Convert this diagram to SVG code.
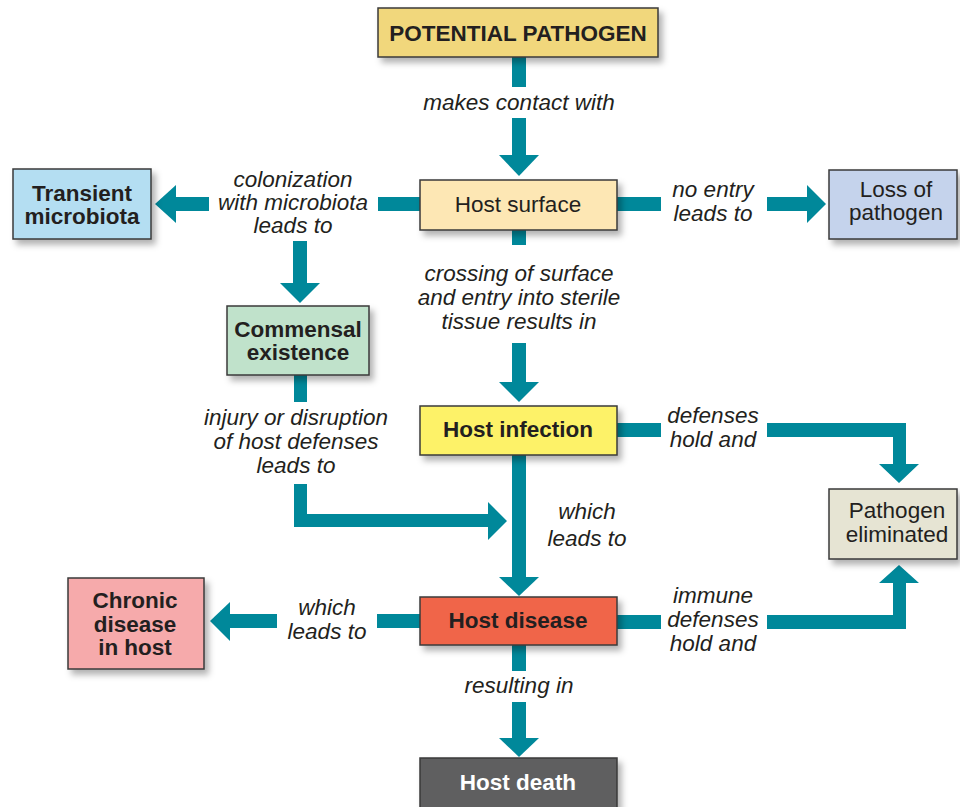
<svg xmlns="http://www.w3.org/2000/svg" width="960" height="807" viewBox="0 0 960 807">
<defs>
<filter id="sh" x="-10%" y="-20%" width="130%" height="150%">
<feDropShadow dx="4" dy="5" stdDeviation="3" flood-color="#000" flood-opacity="0.3"/>
</filter>
<style>
.box{stroke:#3a3a3a;stroke-width:1.5;filter:url(#sh)}
.t{font-family:"Liberation Sans",Arial,sans-serif;font-size:22.5px;fill:#231f20;text-anchor:middle}
.b{font-weight:bold}
.lbl{font-family:"Liberation Sans",Arial,sans-serif;font-size:22.5px;font-style:italic;fill:#231f20;text-anchor:middle}
.c{fill:#00889a}
</style>
</defs>
<rect width="960" height="807" fill="#fff"/>
<g id="connectors">
<rect class="c" x="512" y="57" width="14" height="30"/>
<rect class="c" x="512" y="118" width="14" height="38"/>
<polygon class="c" points="499,155 539,155 519,176"/>
<rect class="c" x="378" y="197" width="43" height="14"/>
<rect class="c" x="175" y="197" width="34" height="14"/>
<polygon class="c" points="176,185 176,223 155,204"/>
<rect class="c" x="293" y="241" width="14" height="43"/>
<polygon class="c" points="280,283 320,283 300,303"/>
<rect class="c" x="616" y="197" width="45" height="14"/>
<rect class="c" x="767" y="197" width="41" height="14"/>
<polygon class="c" points="807,185 807,223 826,204"/>
<rect class="c" x="512" y="229" width="14" height="16"/>
<rect class="c" x="512" y="343" width="14" height="40"/>
<polygon class="c" points="499,382 539,382 519,402"/>
<rect class="c" x="294" y="374" width="13" height="28"/>
<polygon class="c" points="294,484 307,484 307,514 488,514 488,502 507,521 488,540 488,527 294,527"/>
<rect class="c" x="512" y="454" width="14" height="124"/>
<polygon class="c" points="499,577 539,577 519,596"/>
<rect class="c" x="616" y="423" width="45" height="14"/>
<polygon class="c" points="767,423 906,423 906,464 919,464 899,483 879,464 893,464 893,437 767,437"/>
<rect class="c" x="616" y="615" width="45" height="14"/>
<polygon class="c" points="767,629 906,629 906,583 919,583 899,565 879,583 893,583 893,615 767,615"/>
<rect class="c" x="377" y="614" width="44" height="14"/>
<rect class="c" x="229" y="614" width="48" height="14"/>
<polygon class="c" points="230,602 230,641 210,621"/>
<rect class="c" x="512" y="644" width="14" height="27"/>
<rect class="c" x="512" y="702" width="14" height="37"/>
<polygon class="c" points="499,738 539,738 519,757"/>
</g>
<g id="labels">
<text class="lbl" x="519" y="110">makes contact with</text>
<text class="lbl" x="293" y="187">colonization</text>
<text class="lbl" x="293" y="210">with microbiota</text>
<text class="lbl" x="293" y="233">leads to</text>
<text class="lbl" x="713" y="197">no entry</text>
<text class="lbl" x="713" y="221">leads to</text>
<text class="lbl" x="519" y="281">crossing of surface</text>
<text class="lbl" x="519" y="305">and entry into sterile</text>
<text class="lbl" x="519" y="329">tissue results in</text>
<text class="lbl" x="296" y="425">injury or disruption</text>
<text class="lbl" x="296" y="449">of host defenses</text>
<text class="lbl" x="296" y="473">leads to</text>
<text class="lbl" x="713" y="423">defenses</text>
<text class="lbl" x="713" y="447">hold and</text>
<text class="lbl" x="587" y="519">which</text>
<text class="lbl" x="587" y="546">leads to</text>
<text class="lbl" x="713" y="603">immune</text>
<text class="lbl" x="713" y="627">defenses</text>
<text class="lbl" x="713" y="651">hold and</text>
<text class="lbl" x="327" y="615">which</text>
<text class="lbl" x="327" y="639">leads to</text>
<text class="lbl" x="519" y="693">resulting in</text>
</g>
<g id="potential-pathogen">
<rect class="box" x="378" y="8" width="280" height="49" fill="#f1d77b"/>
<text class="t b" x="518" y="41">POTENTIAL PATHOGEN</text>
</g>
<g id="host-surface">
<rect class="box" x="420" y="180" width="197" height="50" fill="#fde7b4"/>
<text class="t" x="518" y="212">Host surface</text>
</g>
<g id="transient-microbiota">
<rect class="box" x="13" y="169" width="138" height="70" fill="#b4def2"/>
<text class="t b" x="82" y="201">Transient</text>
<text class="t b" x="82" y="224">microbiota</text>
</g>
<g id="loss-of-pathogen">
<rect class="box" x="829" y="170" width="128" height="69" fill="#c5d3ec"/>
<text class="t" x="896" y="197">Loss of</text>
<text class="t" x="896" y="220">pathogen</text>
</g>
<g id="commensal-existence">
<rect class="box" x="227" y="306" width="142" height="69" fill="#c0e2cb"/>
<text class="t b" x="298" y="337">Commensal</text>
<text class="t b" x="298" y="360">existence</text>
</g>
<g id="host-infection">
<rect class="box" x="420" y="406" width="197" height="49" fill="#fdf267"/>
<text class="t b" x="518" y="437">Host infection</text>
</g>
<g id="pathogen-eliminated">
<rect class="box" x="829" y="489" width="128" height="70" fill="#e6e4d3"/>
<text class="t" x="897" y="518">Pathogen</text>
<text class="t" x="897" y="542">eliminated</text>
</g>
<g id="host-disease">
<rect class="box" x="420" y="597" width="197" height="48" fill="#f0654a"/>
<text class="t b" x="518" y="628">Host disease</text>
</g>
<g id="chronic-disease">
<rect class="box" x="68" y="578" width="136" height="91" fill="#f6aaab"/>
<text class="t b" x="135" y="608">Chronic</text>
<text class="t b" x="135" y="632">disease</text>
<text class="t b" x="135" y="655">in host</text>
</g>
<g id="host-death">
<rect class="box" x="420" y="758" width="197" height="60" fill="#5f5f61"/>
<text class="t b" x="518" y="790" style="fill:#fff">Host death</text>
</g>
</svg>
